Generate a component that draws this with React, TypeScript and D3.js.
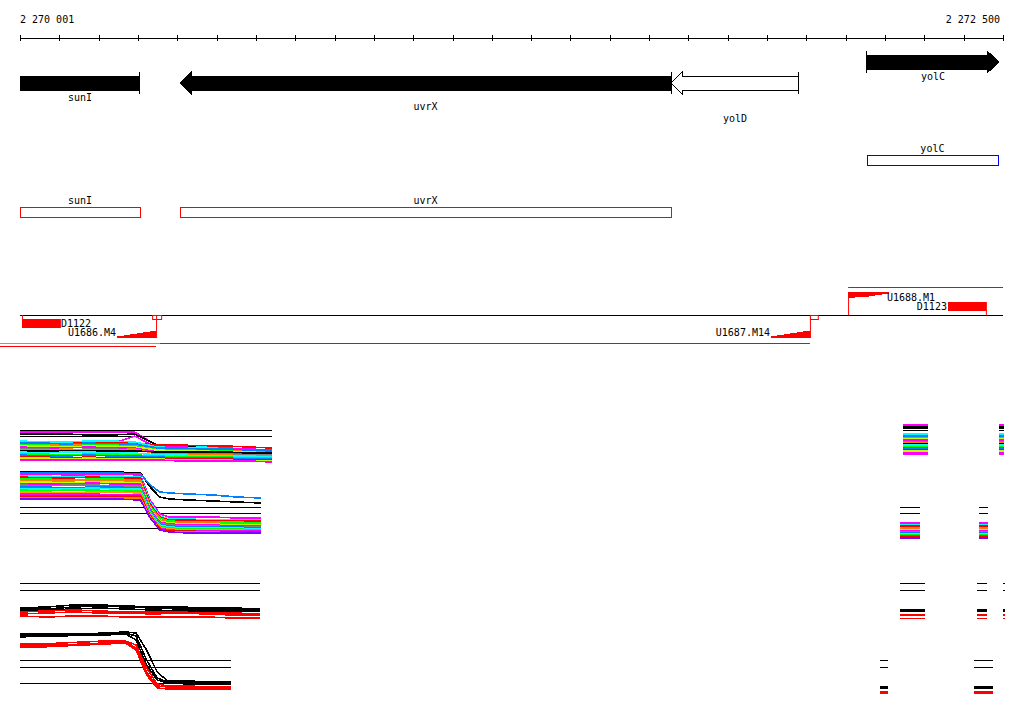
import React from 'react';
import * as d3 from 'd3';

// ---------------- DATA ----------------
const regionStart = 2270001;
const regionEnd = 2272501;
const axisLabelLeft = '2 270 001';
const axisLabelRight = '2 272 500';
const tickStep = 100;

const geneNames = ['sunI', 'uvrX', 'yolD', 'yolC'];
const geneStarts = [2269700, 2270408, 2271657, 2272155];
const geneEnds = [2270306, 2271657, 2271982, 2272491];
const geneStrands = ['-', '-', '-', '+'];
const geneFills = ['#000000', '#000000', '#ffffff', '#000000'];
const geneLabelRow = [0, 1, 2, 0];

const annNames = ['yolC', 'sunI', 'uvrX'];
const annStarts = [2272155, 2270001, 2270408];
const annEnds = [2272488, 2270306, 2271657];
const annColors = ['#0000ff', '#ff0000', '#ff0000'];
const annRow = [0, 1, 1];

const featNames = ['D1122', 'U1686.M4', 'U1687.M14', 'U1688.M1', 'D1123'];
const featStarts = [2270006, 2270248, 2271911, 2272107, 2272361];
const featEnds = [2270105, 2270347, 2272010, 2272211, 2272460];
const featKinds = ['D-below', 'U-below', 'U-below', 'U-above', 'D-above'];
const markerStarts = [2270337, 2272010];
const markerEnds = [2270360, 2272030];
const segStarts = [2269950, 2270357, 2269950, 2272107];
const segEnds = [2270357, 2272010, 2270347, 2272501];
const segColors = ['#00ff00', '#ff0000', '#ff0000', '#ff0000'];
const segRows = [0, 0, 1, 2];

// expression panels
const timeA = [0, 1, 2, 3, 4, 5, 6, 7, 8, 9, 10, 11];
const refA = [32, 26];
const linesA: [string, number[]][] = [
  ['#ff00ff', [30, 30, 30, 30, 30, 30, 16, 15, 15, 14, 13, 12]],
  ['#000000', [28, 28, 28, 27, 27, 28, 17, 16, 15, 14, 12, 10]],
  ['#ff00ff', [18, 18, 18, 18, 18, 26, 14, 15, 14, 14, 13, 12]],
  ['#ff0000', [19, 19, 19, 19, 19, 19, 17, 17, 16, 16, 15, 14]],
  ['#00ffff', [21, 20, 20, 21, 21, 20, 15, 14, 15, 13, 12, 11]],
  ['#ff8000', [18, 17, 17, 18, 17, 17, 13, 13, 12, 12, 11, 10]],
  ['#0080ff', [19, 19, 18, 19, 18, 18, 14, 14, 13, 13, 12, 11]],
  ['#00ff00', [17, 17, 16, 17, 17, 16, 12, 12, 11, 11, 10, 9]],
  ['#c0ff00', [16, 16, 15, 16, 16, 15, 12, 11, 11, 10, 10, 9]],
  ['#ff00ff', [15, 14, 14, 15, 14, 14, 10, 10, 9, 9, 8, 8]],
  ['#808080', [13, 13, 12, 13, 13, 12, 9, 9, 8, 8, 7, 7]],
  ['#ff8000', [12, 12, 13, 12, 12, 13, 8, 8, 7, 7, 6, 6]],
  ['#000000', [11, 11, 11, 11, 11, 11, 10, 10, 10, 10, 9, 9]],
  ['#00ffff', [10, 9, 10, 10, 9, 9, 7, 7, 6, 6, 6, 5]],
  ['#00ff00', [8, 8, 7, 8, 8, 7, 6, 5, 5, 5, 4, 4]],
  ['#0080ff', [7, 6, 6, 7, 6, 6, 5, 4, 4, 4, 3, 3]],
  ['#ff0000', [5, 5, 4, 5, 4, 4, 4, 3, 3, 3, 2, 2]],
  ['#c0ff00', [4, 4, 3, 4, 3, 3, 3, 2, 2, 2, 1, 1]],
  ['#ff00ff', [2, 2, 2, 2, 2, 2, 2, 1, 1, 1, 1, 0]],
];

const timeB = [0, 10, 20, 30, 40, 50, 54, 58, 62, 70, 80, 90, 100];
const refB = [28, 22, 7];
const linesB: [string, number[]][] = [
  ['#000000', [63, 63, 63, 63, 63, 62, 48, 38, 36, 35, 34, 33, 32]],
  ['#0080ff', [62, 62, 62, 62, 62, 61, 50, 43, 42, 41, 40, 38, 37]],
  ['#ff00ff', [61, 61, 60, 60, 61, 60, 35, 21, 18, 18, 18, 17, 17]],
  ['#00ffff', [59, 59, 58, 59, 59, 58, 33, 19, 16, 16, 15, 15, 15]],
  ['#ff0000', [58, 57, 57, 58, 57, 57, 31, 18, 15, 15, 14, 14, 14]],
  ['#00ff00', [56, 56, 55, 56, 56, 55, 29, 17, 14, 13, 13, 13, 12]],
  ['#ff8000', [55, 54, 54, 55, 54, 54, 28, 15, 13, 12, 12, 11, 11]],
  ['#c0ff00', [53, 53, 52, 53, 53, 52, 27, 14, 12, 11, 11, 10, 10]],
  ['#ff00ff', [51, 51, 51, 52, 51, 51, 26, 13, 11, 10, 10, 9, 9]],
  ['#808080', [50, 49, 50, 50, 49, 49, 25, 12, 10, 9, 9, 8, 8]],
  ['#0080ff', [48, 48, 47, 48, 48, 47, 24, 11, 9, 8, 8, 8, 7]],
  ['#00ffff', [46, 46, 46, 47, 46, 46, 23, 10, 8, 7, 7, 7, 6]],
  ['#00ff00', [45, 44, 45, 45, 44, 44, 22, 9, 7, 6, 6, 6, 5]],
  ['#ffa000', [43, 43, 42, 43, 43, 42, 21, 8, 6, 5, 5, 5, 4]],
  ['#ff00ff', [41, 41, 41, 41, 40, 40, 20, 7, 5, 4, 4, 4, 4]],
  ['#ff0000', [39, 39, 39, 39, 39, 39, 19, 6, 4, 4, 3, 3, 3]],
  ['#ff8000', [37, 37, 37, 37, 37, 37, 18, 5, 3, 3, 3, 2, 2]],
  ['#8000ff', [36, 36, 36, 36, 36, 35, 17, 5, 3, 2, 2, 2, 2]],
];

const timeC = [0, 1, 2, 3, 4, 5, 6, 7, 8, 9];
const refC = [37, 30];
const linesC: [string, number[]][] = [
  ['#000000', [12, 13, 15, 15, 14, 13, 13, 12, 12, 11]],
  ['#000000', [11, 11, 13, 14, 13, 12, 11, 11, 10, 10]],
  ['#000000', [10, 10, 11, 12, 11, 10, 9, 9, 9, 9]],
  ['#ff0000', [8, 9, 10, 9, 8, 8, 8, 7, 7, 6]],
  ['#ff0000', [6, 7, 8, 7, 7, 6, 7, 6, 5, 5]],
  ['#ff0000', [4, 3, 4, 4, 3, 3, 3, 3, 2, 2]],
];

const timeD = [0, 10, 20, 30, 40, 50, 55, 60, 65, 70, 80, 90, 100];
const refD = [32, 25, 9];
const linesD: [string, number[]][] = [
  ['#000000', [58, 58, 58, 58, 59, 60, 59, 42, 20, 11, 11, 10, 10]],
  ['#000000', [57, 57, 57, 57, 58, 59, 56, 32, 14, 10, 10, 9, 9]],
  ['#000000', [55, 56, 56, 57, 57, 58, 52, 27, 12, 9, 8, 8, 8]],
  ['#ff0000', [48, 48, 49, 50, 51, 51, 47, 24, 8, 6, 6, 5, 5]],
  ['#ff0000', [47, 47, 47, 48, 49, 50, 44, 20, 6, 5, 4, 4, 4]],
  ['#ff0000', [45, 45, 46, 47, 48, 49, 42, 17, 4, 3, 3, 3, 3]],
];

// ---------------- LAYOUT ----------------
const W = 1024, H = 714;
const FONT = 'DejaVu Sans Mono, Liberation Mono, monospace';
const x = d3.scaleLinear().domain([regionStart, regionEnd]).range([20, 1003]);

const panels = [
  { times: timeA, refs: refA, lines: linesA, x0: 20, x1: 272, yTop: 428, yBot: 462, max: 34,
    minis: [[903, 928], [999, 1004]], miniCol: 0, miniDy: -7, miniSkip: 0, miniW: 2.2 },
  { times: timeB, refs: refB, lines: linesB, x0: 20, x1: 261, yTop: 470, yBot: 535, max: 65,
    minis: [[900, 920], [979, 988]], miniCol: -1, miniDy: 4, miniSkip: 2, miniW: 2 },
  { times: timeC, refs: refC, lines: linesC, x0: 20, x1: 260, yTop: 580, yBot: 620, max: 40,
    minis: [[900, 925], [977, 987], [1003, 1005]], miniCol: -1, miniDy: 0, miniSkip: 0, miniW: 1.6 },
  { times: timeD, refs: refD, lines: linesD, x0: 20, x1: 231, yTop: 630, yBot: 692, max: 62,
    minis: [[880, 888], [974, 993]], miniCol: -1, miniDy: 4, miniSkip: 0, miniW: 1.6 },
];

function GeneGlyph({ i }: { i: number }) {
  const plus = geneStrands[i] === '+';
  const yc = plus ? 62 : 83;
  const a = x(geneStarts[i]);
  const b = x(geneEnds[i]);
  const hs = 7, hh = 11, hl = plus ? 12 : 11;
  let pts: [number, number][];
  let cap: number;
  if (plus) {
    const xh = b - hl;
    pts = [[a, yc - hs], [xh, yc - hs], [xh, yc - hh], [b, yc], [xh, yc + hh], [xh, yc + hs], [a, yc + hs]];
    cap = a;
  } else {
    if (a < 20) {
      pts = [[20, yc - hs], [b, yc - hs], [b, yc + hs], [20, yc + hs]];
    } else {
      const xh = a + hl;
      pts = [[a, yc], [xh, yc - hh], [xh, yc - hs], [b, yc - hs], [b, yc + hs], [xh, yc + hs], [xh, yc + hh]];
    }
    cap = b;
  }
  const labelY = plus ? yc + 18 : [101, 110, 122][geneLabelRow[i]];
  const cx = (Math.max(a, 20) + b) / 2;
  return (
    <g>
      <polygon points={pts.map(p => p.join(',')).join(' ')} fill={geneFills[i]} stroke="#000" strokeWidth={1} shapeRendering="crispEdges" />
      <line x1={cap} x2={cap} y1={yc - hh} y2={yc + hh} stroke="#000" strokeWidth={1} shapeRendering="crispEdges" />
      <text x={cx} y={labelY} textAnchor="middle" fontFamily={FONT} fontSize={10} fill="#000">{geneNames[i]}</text>
    </g>
  );
}

function stepPoly(a: number, b: number, base: number, hLeft: number, hRight: number, dir: number) {
  const n = 6;
  const w = (b - a) / n;
  const pts: [number, number][] = [[a, base]];
  for (let k = 0; k < n; k++) {
    const h = hLeft + (hRight - hLeft) * (k + 1) / n;
    pts.push([a + k * w, base - dir * h]);
    pts.push([a + (k + 1) * w, base - dir * h]);
  }
  pts.push([b, base]);
  return pts.map(p => p.join(',')).join(' ');
}

function Features() {
  const base = 315;
  const els: React.ReactNode[] = [];
  featNames.forEach((nm, i) => {
    const a = x(featStarts[i]);
    const b = x(featEnds[i]);
    const kind = featKinds[i];
    if (kind === 'D-below') {
      els.push(<rect key={'r' + i} x={a} y={319} width={b - a} height={9} fill="#ff0000" />);
      els.push(<line key={'l' + i} x1={a + 0.5} x2={a + 0.5} y1={base} y2={319} stroke="#ff0000" />);
      els.push(<text key={'t' + i} x={b} y={327} fontFamily={FONT} fontSize={10}>{nm}</text>);
    } else if (kind === 'D-above') {
      els.push(<rect key={'r' + i} x={a} y={302} width={b - a} height={9} fill="#ff0000" />);
      els.push(<line key={'l' + i} x1={b - 0.5} x2={b - 0.5} y1={311} y2={base} stroke="#ff0000" />);
      els.push(<text key={'t' + i} x={a - 1} y={310} textAnchor="end" fontFamily={FONT} fontSize={10}>{nm}</text>);
    } else if (kind === 'U-below') {
      els.push(<polygon key={'p' + i} points={stepPoly(a, b, 338, 1, 7, 1)} fill="#ff0000" shapeRendering="crispEdges" />);
      els.push(<line key={'l' + i} x1={b + 0.5} x2={b + 0.5} y1={base} y2={338} stroke="#ff0000" />);
      els.push(<text key={'t' + i} x={a - 1} y={336} textAnchor="end" fontFamily={FONT} fontSize={10}>{nm}</text>);
    } else {
      els.push(<polygon key={'p' + i} points={stepPoly(a, b, 292, 7, 2, -1)} fill="#ff0000" shapeRendering="crispEdges" />);
      els.push(<line key={'l' + i} x1={a + 0.5} x2={a + 0.5} y1={292} y2={base} stroke="#ff0000" />);
      els.push(<text key={'t' + i} x={b - 2} y={301} fontFamily={FONT} fontSize={10}>{nm}</text>);
    }
  });
  markerStarts.forEach((s, i) => {
    els.push(<rect key={'m' + i} x={x(s) + 0.5} y={315.5} width={x(markerEnds[i]) - x(s)} height={4} fill="none" stroke="#ff0000" />);
  });
  const segY = [343.5, 346.5, 287.5];
  segStarts.forEach((s, i) => {
    const a = Math.max(0, x(s));
    els.push(<line key={'s' + i} x1={a} x2={x(segEnds[i])} y1={segY[segRows[i]]} y2={segY[segRows[i]]} stroke={segColors[i]} strokeWidth={1} />);
  });
  return (
    <g>
      <line x1={20} x2={1003} y1={base + 0.5} y2={base + 0.5} stroke="#000" />
      {els}
    </g>
  );
}

function Panel({ p }: { p: typeof panels[number] }) {
  const t = p.times;
  const px = d3.scaleLinear().domain([t[0], t[t.length - 1]]).range([p.x0, p.x1]);
  const py = d3.scaleLinear().domain([0, p.max]).range([p.yBot, p.yTop]);
  const line = d3.line<number>().x((_, i) => px(t[i])).y(v => py(v));
  return (
    <g shapeRendering="crispEdges">
      {p.refs.map((r, i) => (
        <line key={'r' + i} x1={p.x0} x2={p.x1} y1={Math.round(py(r)) + 0.5} y2={Math.round(py(r)) + 0.5} stroke="#000" strokeWidth={1} />
      ))}
      {p.lines.map(([c, vals], i) => (
        <path key={'l' + i} d={line(vals) || ''} fill="none" stroke={c} strokeWidth={1.6} />
      ))}
      {p.minis.map(([m0, m1], j) => (
        <g key={'m' + j}>
          {p.refs.slice(0, 2).map((r, i) => (
            <line key={'mr' + i} x1={m0} x2={m1} y1={Math.round(py(r)) + 0.5} y2={Math.round(py(r)) + 0.5} stroke="#000" />
          ))}
          {p.lines.slice(p.miniSkip).map(([c, vals], i) => {
            const v = p.miniCol < 0 ? vals[vals.length - 1] : vals[p.miniCol];
            const yy = Math.round(py(v)) + p.miniDy + 0.5;
            return <line key={'ml' + i} x1={m0} x2={m1} y1={yy} y2={yy} stroke={c} strokeWidth={p.miniW} />;
          })}
        </g>
      ))}
    </g>
  );
}

export default function App() {
  const ticks = d3.range(regionStart, regionEnd + 1, tickStep);
  return (
    <svg width={W} height={H} style={{ position: 'absolute', left: 0, top: 0, background: '#fff' }}>
      <rect x={0} y={0} width={W} height={H} fill="#fff" />
      {/* ruler */}
      <text x={20} y={23} fontFamily={FONT} fontSize={10} fill="#000">{axisLabelLeft}</text>
      <text x={1000} y={23} textAnchor="end" fontFamily={FONT} fontSize={10} fill="#000">{axisLabelRight}</text>
      <line x1={20} x2={1003} y1={38.5} y2={38.5} stroke="#000" />
      {ticks.map(tk => (
        <line key={tk} x1={Math.round(x(tk)) + 0.5} x2={Math.round(x(tk)) + 0.5} y1={35} y2={41} stroke="#000" />
      ))}
      {/* genes */}
      {geneNames.map((_, i) => <GeneGlyph key={i} i={i} />)}
      {/* annotation boxes */}
      {annNames.map((nm, i) => {
        const a = x(annStarts[i]);
        const b = x(annEnds[i]);
        const y0 = annRow[i] === 0 ? 155.5 : 207.5;
        const ly = annRow[i] === 0 ? 152 : 204;
        return (
          <g key={nm + i}>
            <rect x={Math.round(a) + 0.5} y={y0} width={Math.round(b - a)} height={10} fill="none" stroke={annColors[i]} />
            <text x={(a + b) / 2} y={ly} textAnchor="middle" fontFamily={FONT} fontSize={10}>{nm}</text>
          </g>
        );
      })}
      <Features />
      {panels.map((p, i) => <Panel key={i} p={p} />)}
    </svg>
  );
}
